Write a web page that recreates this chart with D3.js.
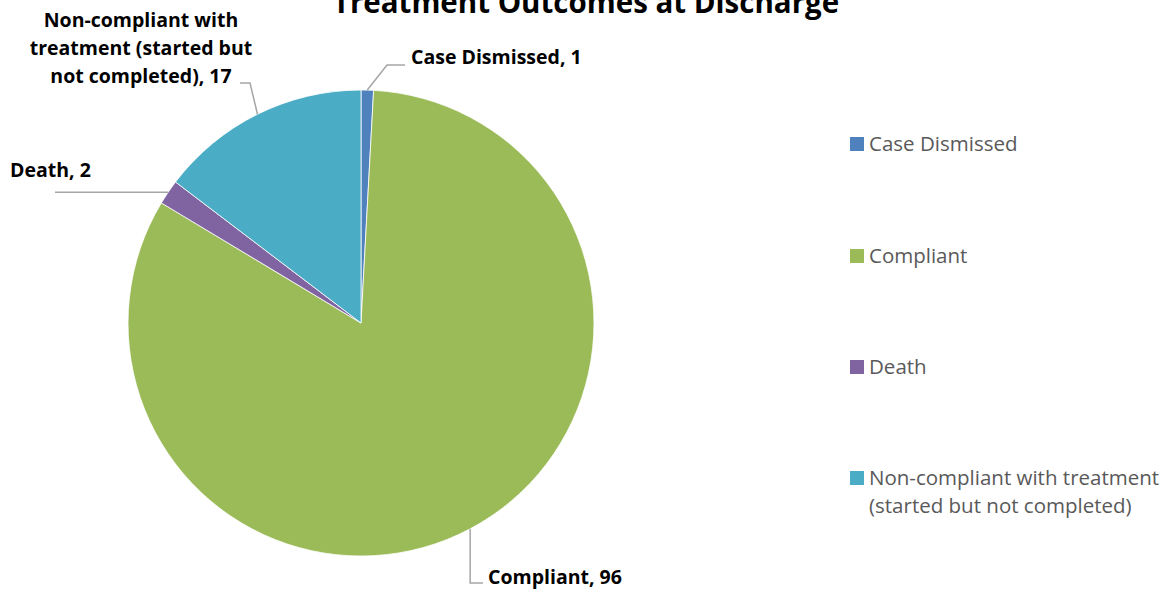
<!DOCTYPE html>
<html>
<head>
<meta charset="utf-8">
<script src="https://cdn.jsdelivr.net/npm/d3@7"></script>
<style>
  body { margin: 0; background: #fff; }
  svg { font-family: "Open Sans", "Noto Sans", sans-serif; }
</style>
</head>
<body>
<svg id="chart" width="1175" height="592"></svg>
<script>
// data
var categories = ["Case Dismissed", "Compliant", "Death", "Non-compliant with treatment (started but not completed)"];
var values = [1, 96, 2, 17];
var colours = ["#4F81BD", "#9BBB59", "#8064A2", "#4BACC6"];
var labelLines = [
  ["Case Dismissed, 1"],
  ["Compliant, 96"],
  ["Death, 2"],
  ["Non-compliant with", "treatment (started but", "not completed), 17"]
];
var legendLines = [
  ["Case Dismissed"],
  ["Compliant"],
  ["Death"],
  ["Non-compliant with treatment", "(started but not completed)"]
];

var svg = d3.select("#chart");
var cx = 361, cy = 323, r = 233;

// title (cut off at top like the original)
svg.append("text")
  .attr("x", 586).attr("y", 13)
  .attr("text-anchor", "middle")
  .style("font-size", "29.5px").style("font-weight", "bold")
  .style("fill", "#000")
  .text("Treatment Outcomes at Discharge");

var data = categories.map(function(c, i) { return {name: c, value: values[i], i: i}; });
var pie = d3.pie().value(function(d) { return d.value; }).sort(null);
var arcs = pie(data);
var arc = d3.arc().innerRadius(0).outerRadius(r);

var g = svg.append("g").attr("transform", "translate(" + cx + "," + cy + ")");
g.selectAll("path.slice")
  .data(arcs).enter().append("path")
  .attr("class", "slice")
  .attr("d", arc)
  .style("fill", function(d) { return colours[d.data.i]; })
  .style("stroke", "#fff")
  .style("stroke-width", 0.8);

// leader lines + labels
var labelLayout = [
  {elbow: [387, 65], end: [405, 65], tx: 411, ty: 64, anchor: "start"},
  {vert: 583, endx: 483, tx: 488, ty: 584, anchor: "start"},
  {endx: 55, tx: 10, ty: 177, anchor: "start"},
  {elbow: [250, 83], end: [240, 83], tx: 141, ty: 27, anchor: "middle"}
];

arcs.forEach(function(d, k) {
  var mid = (d.startAngle + d.endAngle) / 2;
  var px = cx + r * Math.sin(mid), py = cy - r * Math.cos(mid);
  var L = labelLayout[k];
  var pts = [[px, py]];
  if (k === 1) {
    pts.push([px, L.vert]); pts.push([L.endx, L.vert]);
  } else if (k === 2) {
    pts.push([L.endx, py]);
  } else {
    pts.push(L.elbow); pts.push(L.end);
  }
  svg.append("path")
    .attr("d", d3.line()(pts))
    .style("fill", "none").style("stroke", "#A6A6A6").style("stroke-width", 1.5);

  var t = svg.append("text")
    .attr("x", L.tx).attr("y", L.ty)
    .attr("text-anchor", L.anchor)
    .style("font-size", "19.5px").style("font-weight", "bold").style("fill", "#000");
  labelLines[k].forEach(function(line, j) {
    t.append("tspan").attr("x", L.tx).attr("dy", j === 0 ? 0 : 28).text(line);
  });
});

// legend
var legendY = [144, 256, 367, 478];
var lg = svg.append("g");
categories.forEach(function(c, i) {
  lg.append("rect")
    .attr("x", 850).attr("y", legendY[i] - 7)
    .attr("width", 14).attr("height", 14)
    .style("fill", colours[i]);
  var t = lg.append("text")
    .attr("x", 869).attr("y", legendY[i] + 7)
    .style("font-size", "20.5px").style("fill", "#595959");
  legendLines[i].forEach(function(line, j) {
    t.append("tspan").attr("x", 869).attr("dy", j === 0 ? 0 : 28).text(line);
  });
});
</script>
</body>
</html>
